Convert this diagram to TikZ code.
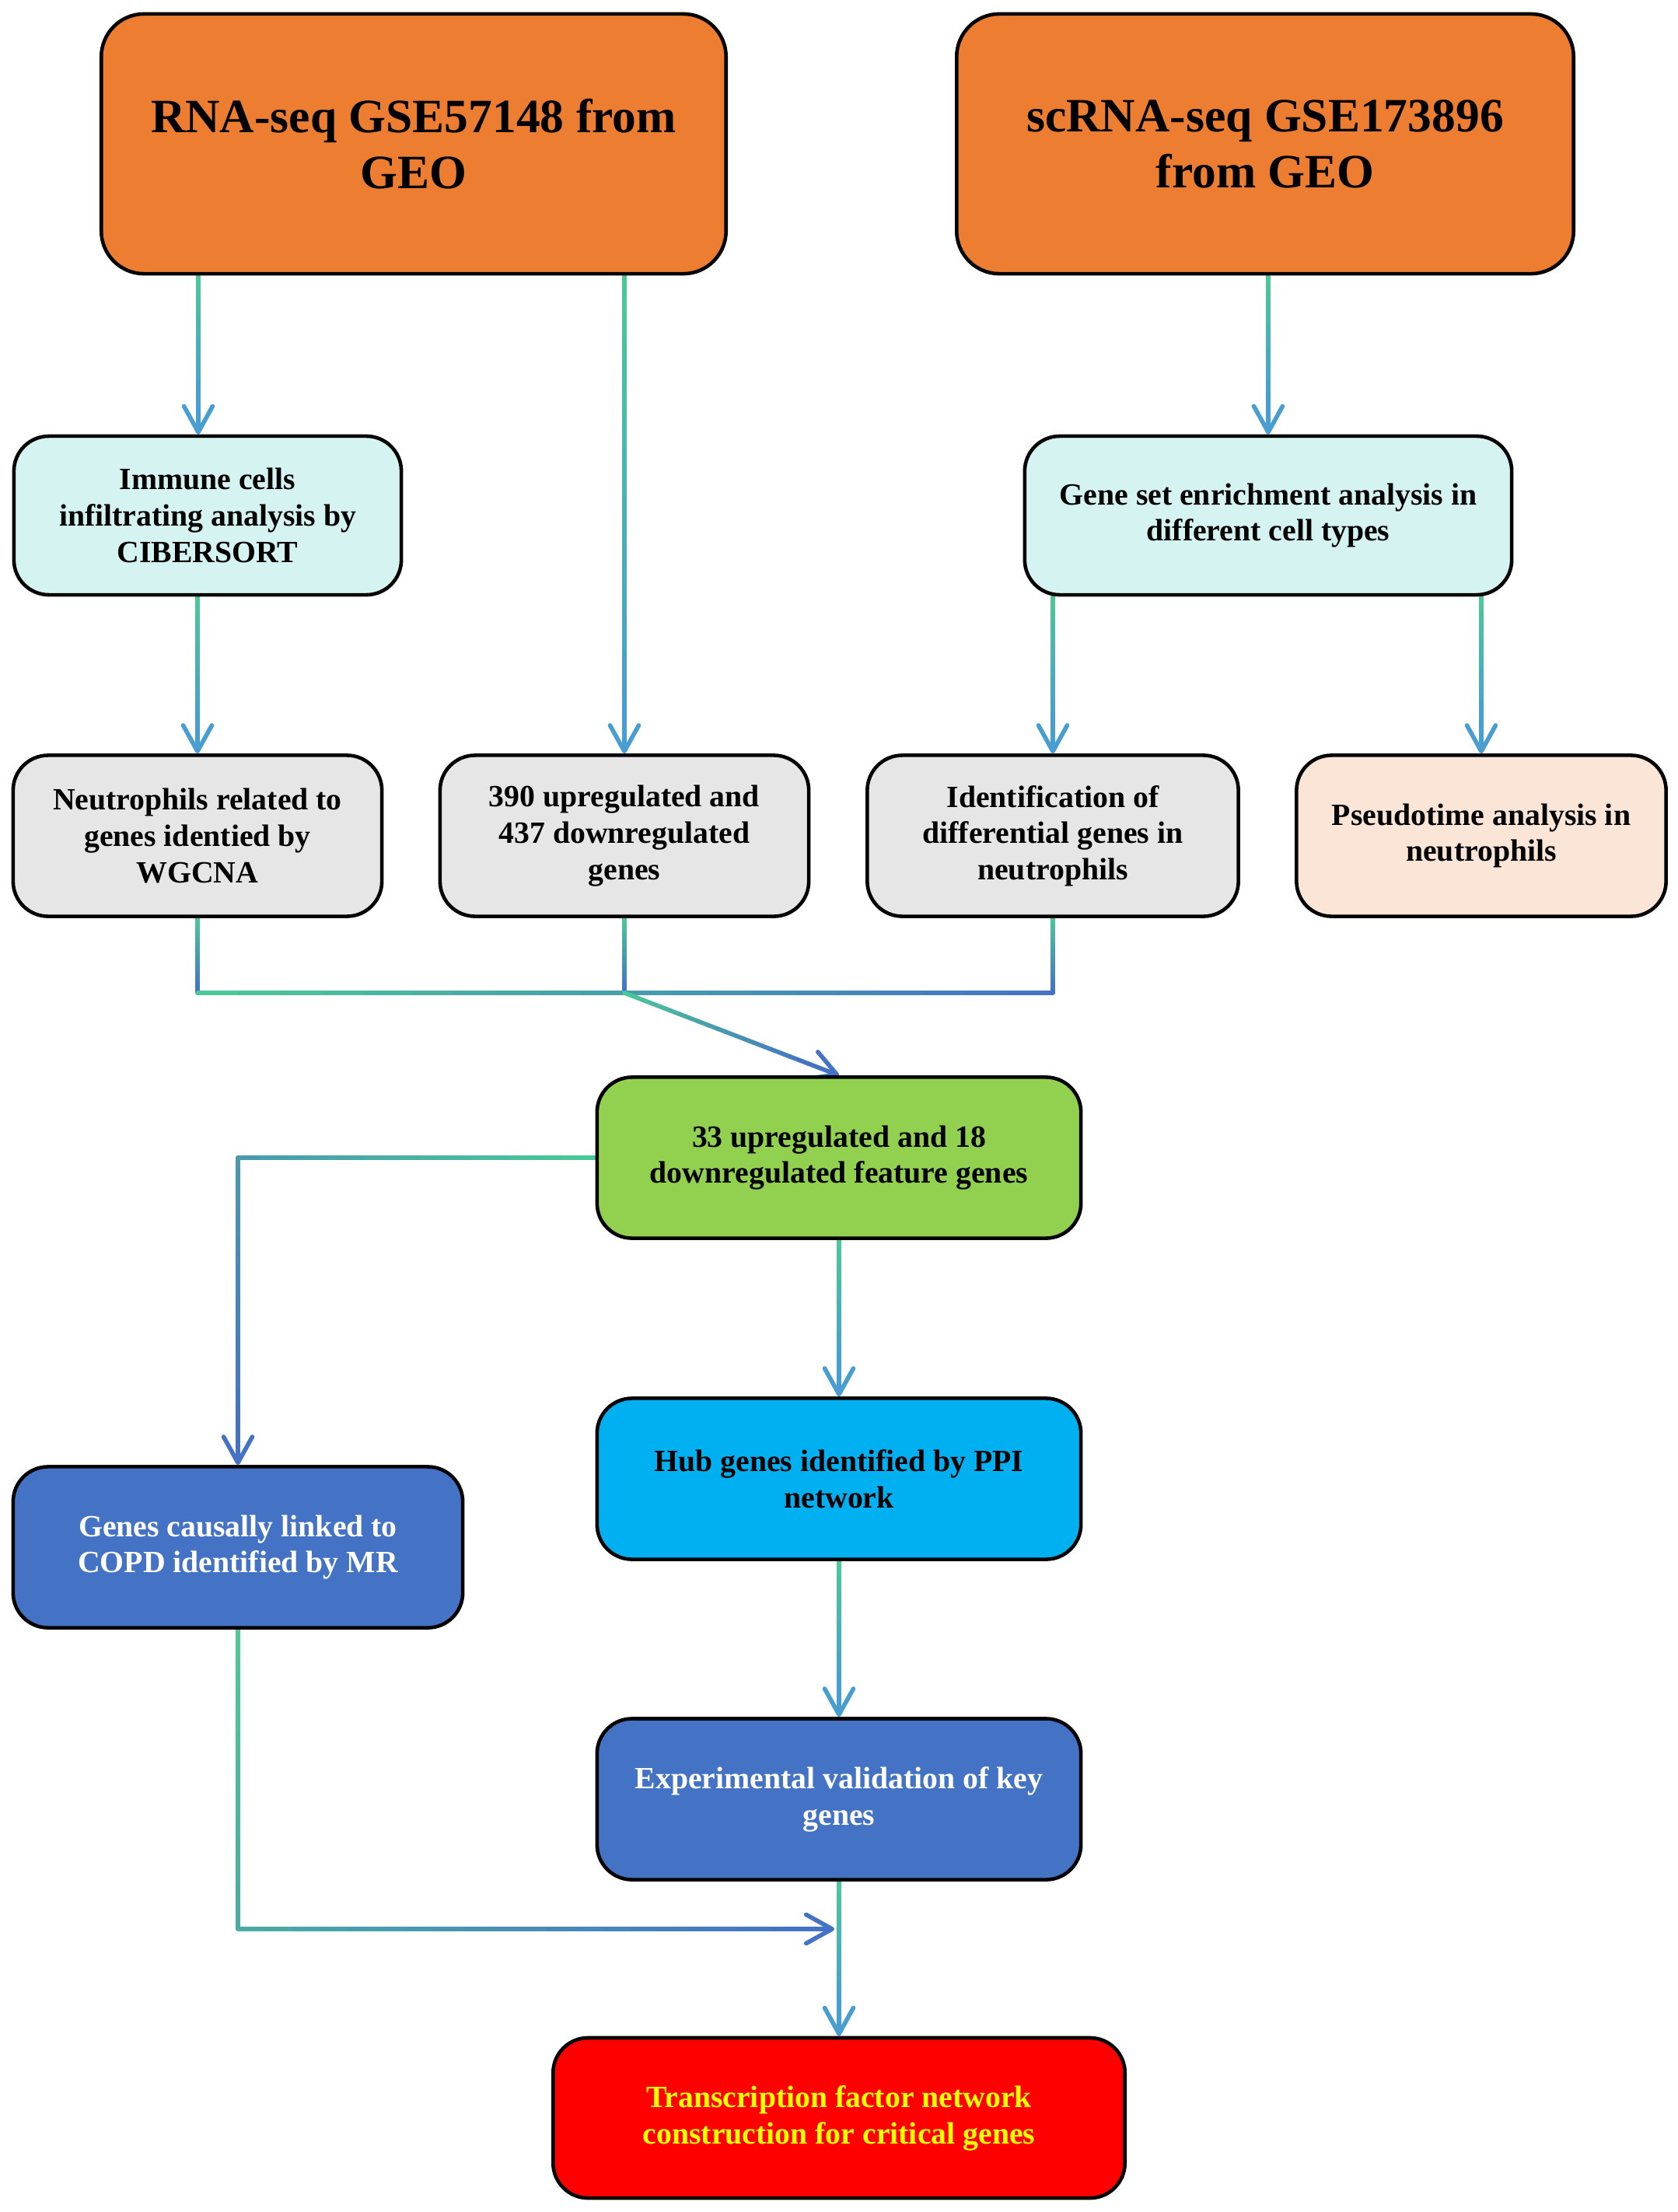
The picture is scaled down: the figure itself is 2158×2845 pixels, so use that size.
\documentclass[tikz,border=0pt]{standalone}
\usepackage{fontspec}
\setmainfont{Liberation Serif}
\usetikzlibrary{calc,arrows.meta}
\pgfdeclarelayer{bg}\pgfsetlayers{bg,main}
\definecolor{cgreen}{RGB}{76,201,150}
\definecolor{cblue}{RGB}{68,114,196}
\definecolor{cmid}{RGB}{72,158,208}
\definecolor{corange}{RGB}{237,125,49}
\definecolor{ccyan}{RGB}{213,243,240}
\definecolor{cgray}{RGB}{230,230,230}
\definecolor{cpeach}{RGB}{251,229,214}
\definecolor{clime}{RGB}{146,208,80}
\definecolor{csky}{RGB}{0,176,240}
\definecolor{croyal}{RGB}{68,114,196}
\definecolor{cred}{RGB}{255,0,0}
\definecolor{cyel}{RGB}{255,255,0}

% gradient from cgreen (t=0) to \gend (t=1)
\def\gend{cblue}
\newcommand\gradpart[4]{%
  \foreach \k in {1,...,20}{%
    \pgfmathsetmacro\ta{(\k-1)/20}%
    \pgfmathsetmacro\tb{\k/20}%
    \pgfmathsetmacro\mx{100*(#3+(#4-#3)*(\k-0.5)/20)}%
    \draw[conn,draw=\gend!\mx!cgreen] ($#1!\ta!#2$) -- ($#1!\tb!#2$);
  }}
\newcommand\gradarrow[4]{%
  \coordinate (gtmp) at ($#2!12pt!#1$);
  \gradpart{#1}{(gtmp)}{#3}{#4}%
  \draw[conn,draw=\gend,-{Straight Barb[length=9.5pt,width=10.5pt,round]}] (gtmp) -- #2;}

\begin{document}
\begin{tikzpicture}[x=0.01cm,y=-0.01cm,
  smallbox/.style={draw=black,line width=1.3pt,rounded corners=0.45cm,align=center,inner sep=0pt,
    font=\fontsize{11.3}{13.3}\selectfont\bfseries},
  bigbox/.style={draw=black,line width=1.3pt,rounded corners=0.55cm,align=center,inner sep=0pt,
    fill=corange,minimum height=3.34cm,font=\fontsize{17.5}{20.5}\selectfont\bfseries},
  conn/.style={line width=1.6pt,line cap=round}]
\useasboundingbox (0,0) rectangle (2158,2845);

\node[bigbox,minimum width=8.03cm] (A) at (532,185) {RNA-seq GSE57148 from\\GEO};
\node[bigbox,minimum width=7.93cm] (B) at (1627,185) {scRNA-seq GSE173896\\from GEO};

\node[smallbox,fill=ccyan,minimum width=4.98cm,minimum height=2.04cm] (C) at (267,663)
  {Immune cells\\infiltrating analysis by\\CIBERSORT};
\node[smallbox,fill=ccyan,minimum width=6.26cm,minimum height=2.04cm] (D) at (1631,663)
  {Gene set enrichment analysis in\\different cell types};

\node[smallbox,fill=cgray,minimum width=4.74cm,minimum height=2.07cm] (E) at (254,1075)
  {Neutrophils related to\\genes identied by\\WGCNA};
\node[smallbox,fill=cgray,minimum width=4.74cm,minimum height=2.07cm] (F) at (803,1075)
  {390 upregulated and\\437 downregulated\\genes};
\node[smallbox,fill=cgray,minimum width=4.77cm,minimum height=2.07cm] (G) at (1354,1075)
  {Identification of\\differential genes in\\neutrophils};
\node[smallbox,fill=cpeach,minimum width=4.75cm,minimum height=2.07cm] (H) at (1905,1075)
  {Pseudotime analysis in\\neutrophils};

\node[smallbox,fill=clime,minimum width=6.22cm,minimum height=2.07cm] (I) at (1079,1489)
  {33 upregulated and 18\\downregulated feature genes};
\node[smallbox,fill=csky,minimum width=6.22cm,minimum height=2.07cm] (J) at (1079,1902)
  {Hub genes identified by PPI\\network};
\node[smallbox,fill=croyal,text=white,minimum width=5.78cm,minimum height=2.07cm] (K) at (306,1990)
  {Genes causally linked to\\COPD identified by MR};
\node[smallbox,fill=croyal,text=white,minimum width=6.22cm,minimum height=2.07cm] (L) at (1079,2314)
  {Experimental validation of key\\genes};
\node[smallbox,fill=cred,text=cyel,minimum width=7.35cm,minimum height=2.06cm] (M) at (1079,2724)
  {Transcription factor network\\construction for critical genes};

\begin{pgfonlayer}{bg}
\def\gend{cmid}
\coordinate (c1) at ([xshift=-0.12cm]C.north);
\gradarrow{(A.south -| c1)}{(c1)}{0}{1}
\gradarrow{(A.south -| F.north)}{(F.north)}{0}{1}
\gradarrow{(B.south -| D.north)}{(D.north)}{0}{1}
\gradarrow{(C.south -| E.north)}{(E.north)}{0}{1}
\gradarrow{(D.south -| G.north)}{(G.north)}{0}{1}
\gradarrow{(D.south -| H.north)}{(H.north)}{0}{1}
\gradarrow{(I.south)}{(J.north)}{0}{1}
\gradarrow{(J.south)}{(L.north)}{0}{1}
\gradarrow{(L.south)}{(M.north)}{0}{1}
% merge
\def\gend{cblue}
\coordinate (mY) at (0,1277);
\coordinate (mE) at (E.south |- mY);
\coordinate (mF) at (F.south |- mY);
\coordinate (mG) at (G.south |- mY);
\gradpart{(E.south)}{(mE)}{0}{1}
\gradpart{(F.south)}{(mF)}{0}{1}
\gradpart{(G.south)}{(mG)}{0}{1}
\gradpart{(mE)}{(mG)}{0}{1}
\gradarrow{(mF)}{(I.north)}{0}{1}
% I -> K
\coordinate (ik) at (K.north |- I.west);
\gradpart{(I.west)}{(ik)}{0}{0.54}
\gradarrow{(ik)}{(K.north)}{0.54}{1}
% K -> M line
\coordinate (kY) at (0,2481);
\coordinate (kc) at (K.south |- kY);
\coordinate (kend) at ([xshift=-0.06cm]L.south |- kY);
\gradpart{(K.south)}{(kc)}{0}{0.335}
\gradarrow{(kc)}{(kend)}{0.335}{1}
\end{pgfonlayer}
\end{tikzpicture}
\end{document}
